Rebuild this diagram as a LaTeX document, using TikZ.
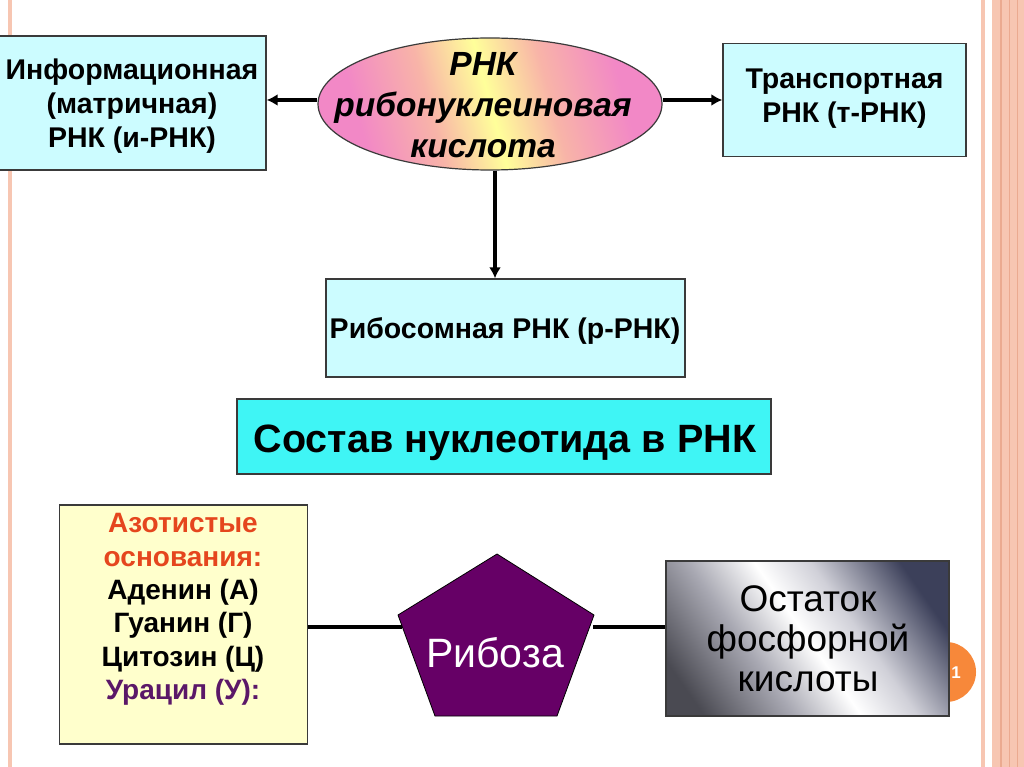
\documentclass[tikz,border=0pt]{standalone}
\usepackage{fontspec}
\setmainfont{Liberation Sans}
\usetikzlibrary{arrows.meta,shapes.geometric}
\definecolor{lightcyan}{HTML}{CCFCFF}
\definecolor{brightcyan}{HTML}{3FF5F5}
\definecolor{paleyellow}{HTML}{FFFFCC}
\definecolor{ribpurple}{HTML}{660066}
\definecolor{edgegray}{HTML}{3A3A3A}
\definecolor{stripe}{HTML}{F7C6B2}
\definecolor{stripedark}{HTML}{EBAA90}
\definecolor{azotred}{HTML}{E5461E}
\definecolor{uracil}{HTML}{5B1868}
\definecolor{ellpink}{HTML}{F288C6}
\definecolor{ellyellow}{HTML}{FFFF9A}
\definecolor{ellpeach}{HTML}{F8B4A8}
\definecolor{metaldark}{HTML}{4A4A52}
\definecolor{metalmid}{HTML}{A8A8B2}
\definecolor{metallight}{HTML}{D0D0D8}
\definecolor{metalblue}{HTML}{3C405A}
\definecolor{badge}{HTML}{F7883A}
\pgfdeclarehorizontalshading{metalshade}{100bp}{color(0bp)=(metaldark); color(22bp)=(metaldark); color(38bp)=(metalmid); color(50bp)=(white); color(60bp)=(metallight); color(76bp)=(metalblue); color(100bp)=(metalblue)}
\pgfdeclarehorizontalshading{ellshade}{100bp}{color(0bp)=(ellpink); color(28bp)=(ellpink); color(40bp)=(ellpeach); color(50bp)=(ellyellow); color(60bp)=(ellpeach); color(72bp)=(ellpink); color(100bp)=(ellpink)}
\tikzset{
  box/.style={draw=edgegray, line width=1.4pt, inner sep=0pt, align=center, font=\bfseries},
  label/.style={inner sep=0pt, align=center},
  conn/.style={line width=3.2pt, black},
  arr/.style={conn, -{Latex[length=11pt,width=12pt]}},
}
\begin{document}
\begin{tikzpicture}[x=1pt,y=-1pt]
\useasboundingbox (0,0) rectangle (1024,767);
\fill[white] (0,0) rectangle (1024,767);
% side stripes
\fill[stripe] (8,0) rectangle (12,767);
\fill[stripe] (981,0) rectangle (985,767);
\fill[stripe] (992,0) rectangle (1024,767);
\fill[stripedark] (1000,0) rectangle (1002,767);
\fill[stripedark] (1008.5,0) rectangle (1010,767);
\fill[stripedark] (1017,0) rectangle (1018,767);
% slide number badge
\fill[badge] (946,672) circle (30);
\node[text=white, font=\bfseries\fontsize{17}{17}\selectfont] (num) at (956,673) {1};

% top nodes
\node[box, fill=lightcyan, minimum width=268, minimum height=134] (info) at (132,103) {};
\node[label, font=\bfseries\fontsize{28.5}{34}\selectfont] (infotext) at (132,106.5)
  {Информационная\\(матричная)\\РНК (и-РНК)};
\node[box, fill=lightcyan, minimum width=243, minimum height=113] (trans) at (844.5,100) {};
\node[label, font=\bfseries\fontsize{28.5}{34}\selectfont] (transtext) at (844.5,99)
  {Транспортная\\РНК (т-РНК)};
\node[ellipse, draw=edgegray, line width=1.2pt, shading=ellshade, shading angle=15,
      minimum width=344, minimum height=132, inner sep=0pt] (ell) at (490,104) {};
\node[label, font=\bfseries\itshape\fontsize{33.5}{41}\selectfont] (elltext) at (483,105)
  {РНК\\рибонуклеиновая\\кислота};
\node[box, fill=lightcyan, minimum width=359, minimum height=98] (ribo) at (505.5,328) {};
\node[label, font=\bfseries\fontsize{28.5}{34}\selectfont] (ribotext) at (505,331.5)
  {Рибосомная РНК (р-РНК)};
\node[box, fill=brightcyan, minimum width=534, minimum height=75] (comp) at (504,436.5) {};
\node[label, font=\bfseries\fontsize{39.5}{44}\selectfont] (comptext) at (505,443)
  {Состав нуклеотида в РНК};

\coordinate (ellL) at ([yshift=4pt]ell.west);
\coordinate (ellR) at ([yshift=4pt]ell.east);
\coordinate (ellB) at ([xshift=5pt]ell.south);
\draw[arr] (ellL) -- (info.east |- ellL);
\draw[arr] (ellR) -- (trans.west |- ellR);
\draw[arr] (ellB) -- (ellB |- ribo.north);

% bottom nodes
\node[box, fill=paleyellow, minimum width=248, minimum height=239] (azot) at (183.5,624.5) {};
\node[label, font=\bfseries\fontsize{28}{33.4}\selectfont] (azottext) at (183,609.5)
  {\textcolor{azotred}{Азотистые}\\\textcolor{azotred}{основания:}\\Аденин (А)\\Гуанин (Г)\\Цитозин (Ц)\\\textcolor{uracil}{Урацил (У):}};
\node[draw=edgegray, line width=1.4pt, shading=metalshade, shading angle=35,
      minimum width=283, minimum height=155, inner sep=0pt] (phos) at (807.5,638.5) {};
\node[label, font=\fontsize{37}{40}\selectfont] (phostext) at (808,638.5)
  {Остаток\\фосфорной\\кислоты};

\draw[draw=black, line width=0.8pt, fill=ribpurple]
  (497,554) -- (594,615) -- (557,716) -- (435,716) -- (398,615) -- cycle;
\node[label, text=white, font=\fontsize{41}{41}\selectfont] (rib) at (495,653) {Рибоза};
\coordinate (pl) at (402,627);
\coordinate (pr) at (593,627);

\draw[conn] (azot.east |- pl) -- (pl);
\draw[conn] (pr) -- (phos.west |- pr);
\end{tikzpicture}
\end{document}
